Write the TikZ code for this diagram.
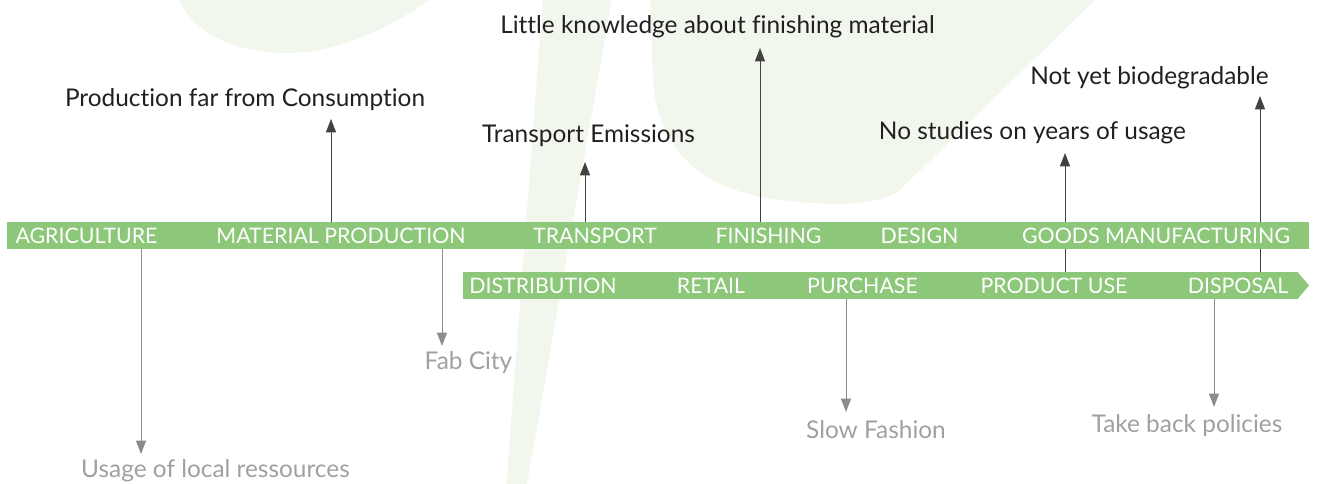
\documentclass[tikz,border=0pt]{standalone}
\usepackage{fontspec}
\setmainfont{Lato}[Ligatures=NoCommon]
\usetikzlibrary{arrows.meta}
\definecolor{leaf}{RGB}{242,247,238}
\definecolor{barg}{RGB}{141,199,121}
\definecolor{ink}{RGB}{35,31,32}
\definecolor{greyink}{RGB}{140,140,140}
\definecolor{greytext}{RGB}{160,160,160}
\begin{document}
\begin{tikzpicture}[x=0.75pt,y=-0.75pt,
 uparrow/.style={draw=ink!85, line width=0.75pt, -{Triangle[width=7.5pt,length=10pt]}},
 downarrow/.style={draw=greyink, line width=0.75pt, -{Triangle[width=7.5pt,length=10pt]}},
 note/.style={text=ink, font=\fontsize{18.3}{21}\selectfont, inner sep=0, anchor=base},
 gnote/.style={note, text=greytext},
 blab/.style={text=white, font=\fontsize{16}{19}\selectfont, inner sep=0, anchor=base},
]
\useasboundingbox (0,0) rectangle (1317,484);
% background leaves
\fill[leaf] (178,-2) .. controls (195,35) and (235,53) .. (287,53) .. controls (340,53) and (395,25) .. (432,-2) -- cycle;
\fill[leaf] (543,-2) -- (612,-2) -- (526,490) -- (506,490) -- cycle;
\fill[leaf] (650,-2) -- (653,80) .. controls (658,150) and (700,190) .. (780,200) .. controls (840,207) and (880,205) .. (900,190) -- (1097,-2) -- cycle;

% arrow tips
\coordinate (tMP) at (331,119);
\coordinate (tTR) at (585,162);
\coordinate (tFI) at (760,48);
\coordinate (tPU) at (1065,153);
\coordinate (tDU) at (1260,96);
\coordinate (tAG) at (141,454);
\coordinate (tFC) at (442,346);
\coordinate (tPC) at (846,412);
\coordinate (tDD) at (1214,407);

% bars (positions)
\path (658,235.5) node (bar1) [minimum width=976.5pt, minimum height=20.25pt, inner sep=0] {};
\path (880.5,285.5) node (bar2) [minimum width=626.25pt, minimum height=20.25pt, inner sep=0] {};

% connectors (behind bars)
\draw[uparrow] (bar1.north -| tMP) -- (tMP);
\draw[uparrow] (bar1.north -| tTR) -- (tTR);
\draw[uparrow] (bar1.north -| tFI) -- (tFI);
\draw[uparrow] (bar2.north -| tPU) -- (tPU);
\draw[uparrow] (bar2.north -| tDU) -- (tDU);
\draw[downarrow] (bar1.south -| tAG) -- (tAG);
\draw[downarrow] (bar1.south -| tFC) -- (tFC);
\draw[downarrow] (bar2.south -| tPC) -- (tPC);
\draw[downarrow] (bar2.south -| tDD) -- (tDD);

% bars (fill)
\fill[barg] (bar1.south west) rectangle (bar1.north east);
\fill[barg] (bar2.south west) rectangle (bar2.north east);
\fill[barg] (1297.5,272) -- (1309,285.5) -- (1297.5,299) -- cycle;

% bar labels
\node[blab] (agr) at (86.5,243.3) {AGRICULTURE};
\node[blab] (mat) at (341,243.3) {MATERIAL PRODUCTION};
\node[blab] (tra) at (595,243.3) {TRANSPORT};
\node[blab] (fin) at (768.5,243.3) {FINISHING};
\node[blab] (des) at (919.5,243.3) {DESIGN};
\node[blab] (goo) at (1156,243.3) {GOODS MANUFACTURING};
\node[blab] (dis) at (543,293.3) {DISTRIBUTION};
\node[blab] (ret) at (711,293.3) {RETAIL};
\node[blab] (pur) at (862.5,293.3) {PURCHASE};
\node[blab] (pro) at (1054,293.3) {PRODUCT USE};
\node[blab] (dsp) at (1238,293.3) {DISPOSAL};

% notes
\node[note] (n1) at (245,107) {Production far from Consumption};
\node[note] (n2) at (588.5,142.5) {Transport Emissions};
\node[note] (n3) at (717.5,34) {Little knowledge about finishing material};
\node[note] (n4) at (1032.5,139.5) {No studies on years of usage};
\node[note] (n5) at (1149.5,84.5) {Not yet biodegradable};
\node[gnote] (g1) at (215.5,477.5) {Usage of local ressources};
\node[gnote] (g2) at (468.5,370) {Fab City};
\node[gnote] (g3) at (876,438) {Slow Fashion};
\node[gnote] (g4) at (1187,432) {Take back policies};
\end{tikzpicture}
\end{document}
